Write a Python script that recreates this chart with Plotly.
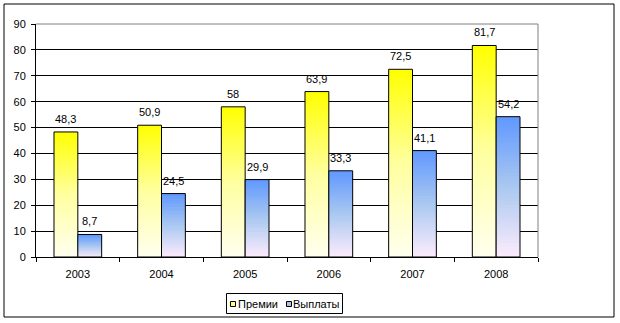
import plotly.graph_objects as go

years = ["2003", "2004", "2005", "2006", "2007", "2008"]
premii = [48.3, 50.9, 58, 63.9, 72.5, 81.7]
vyplaty = [8.7, 24.5, 29.9, 33.3, 41.1, 54.2]
series_names = ["Премии", "Выплаты"]
y_ticks = [0, 10, 20, 30, 40, 50, 60, 70, 80, 90]

FONT = "Liberation Sans, Arial, sans-serif"
W, H = 620, 323
L, R, T, B = 36, 538, 24, 257
pw, ph = R - L, B - T


def px(x):
    return (x - L) / pw


def py(y):
    return (B - y) / ph


def lerp(c1, c2, t):
    return tuple(round(a + (b - a) * t) for a, b in zip(c1, c2))


def grad(stops, t):
    # t: 0 bottom, 1 top
    for (t0, c0), (t1, c1) in zip(stops, stops[1:]):
        if t <= t1:
            return lerp(c0, c1, (t - t0) / (t1 - t0) if t1 > t0 else 0)
    return stops[-1][1]


yellow_stops = [(0.0, (255, 255, 240)), (0.5, (255, 255, 160)), (1.0, (255, 255, 0))]
blue_stops = [(0.0, (252, 236, 252)), (0.5, (170, 200, 240)), (1.0, (96, 152, 255))]

fig = go.Figure()
N = 40
for vals, stops, grp in [(premii, yellow_stops, "a"), (vyplaty, blue_stops, "b")]:
    for i in range(N):
        t = (i + 0.5) / N
        c = grad(stops, t)
        h = [v / N * (1.0 if i == N - 1 else 1.4) for v in vals]
        base = [v * i / N for v in vals]
        fig.add_trace(go.Bar(
            x=years, y=h, base=base, offsetgroup=grp,
            marker=dict(color="rgb(%d,%d,%d)" % c, line=dict(width=0)),
            showlegend=False, hoverinfo="skip"))
    fig.add_trace(go.Bar(
        x=years, y=vals, offsetgroup=grp, name=series_names[0 if grp == "a" else 1],
        marker=dict(color="rgba(0,0,0,0)", line=dict(color="black", width=1)),
        showlegend=False, hoverinfo="skip"))


def fmt(v):
    return ("%g" % v).replace(".", ",")


ann = []
for vals, shift in [(premii, -12), (vyplaty, 12)]:
    for idx, v in enumerate(vals):
        ann.append(dict(x=idx, y=v, xref="x", yref="y", text=fmt(v), showarrow=False,
                        xshift=shift, yshift=5, yanchor="bottom",
                        font=dict(family=FONT, size=11, color="black")))

# manual legend (box, swatches, labels)
legend_items = [(series_names[0], "#FFFF80", 230, 237), (series_names[1], "#A8C4EC", 286, 292)]
shapes = [
    dict(type="rect", xref="paper", yref="paper",
         x0=px(4), x1=px(614), y0=py(317), y1=py(4),
         line=dict(color="black", width=1), fillcolor="rgba(0,0,0,0)", layer="below"),
    dict(type="line", xref="paper", yref="paper", x0=0, x1=1, y0=1, y1=1,
         line=dict(color="#808080", width=1), layer="above"),
    dict(type="line", xref="paper", yref="paper", x0=1, x1=1, y0=0, y1=1,
         line=dict(color="#808080", width=1), layer="above"),
    dict(type="rect", xref="paper", yref="paper",
         x0=px(226.5), x1=px(342.5), y0=py(313.5), y1=py(293.5),
         line=dict(color="black", width=1), fillcolor="white", layer="above"),
]
for name, col, sx, tx in legend_items:
    shapes.append(dict(type="rect", xref="paper", yref="paper",
                       x0=px(sx + 0.5), x1=px(sx + 5.5), y0=py(306.5), y1=py(301.5),
                       line=dict(color="black", width=1), fillcolor=col, layer="above"))
    ann.append(dict(x=px(tx), y=py(303.5), xref="paper", yref="paper", text=name,
                    showarrow=False, xanchor="left", yanchor="middle", borderpad=0,
                    font=dict(family=FONT, size=11, color="black")))

fig.update_layout(
    width=W, height=H,
    margin=dict(l=L, r=W - R, t=T, b=H - B, autoexpand=False),
    paper_bgcolor="white", plot_bgcolor="white",
    barmode="group", bargap=0.43, bargroupgap=0,
    font=dict(family=FONT, size=11, color="black"),
    annotations=ann, shapes=shapes,
    showlegend=False,
    xaxis=dict(type="category", categoryorder="array", categoryarray=years,
               range=[-0.5, len(years) - 0.5],
               showline=True, linecolor="black", linewidth=1,
               ticks="outside", tickson="boundaries", ticklen=4, tickcolor="black",
               ticklabelstandoff=7,
               showgrid=False, tickfont=dict(family=FONT, size=11)),
    yaxis=dict(range=[0, 90], tickvals=y_ticks, showline=True, linecolor="black",
               linewidth=1, ticks="outside", ticklen=4, tickcolor="black",
               ticklabelstandoff=3,
               showgrid=True, gridcolor="black", gridwidth=1, zeroline=False,
               tickfont=dict(family=FONT, size=11)),
)

fig.write_html("out.html")
